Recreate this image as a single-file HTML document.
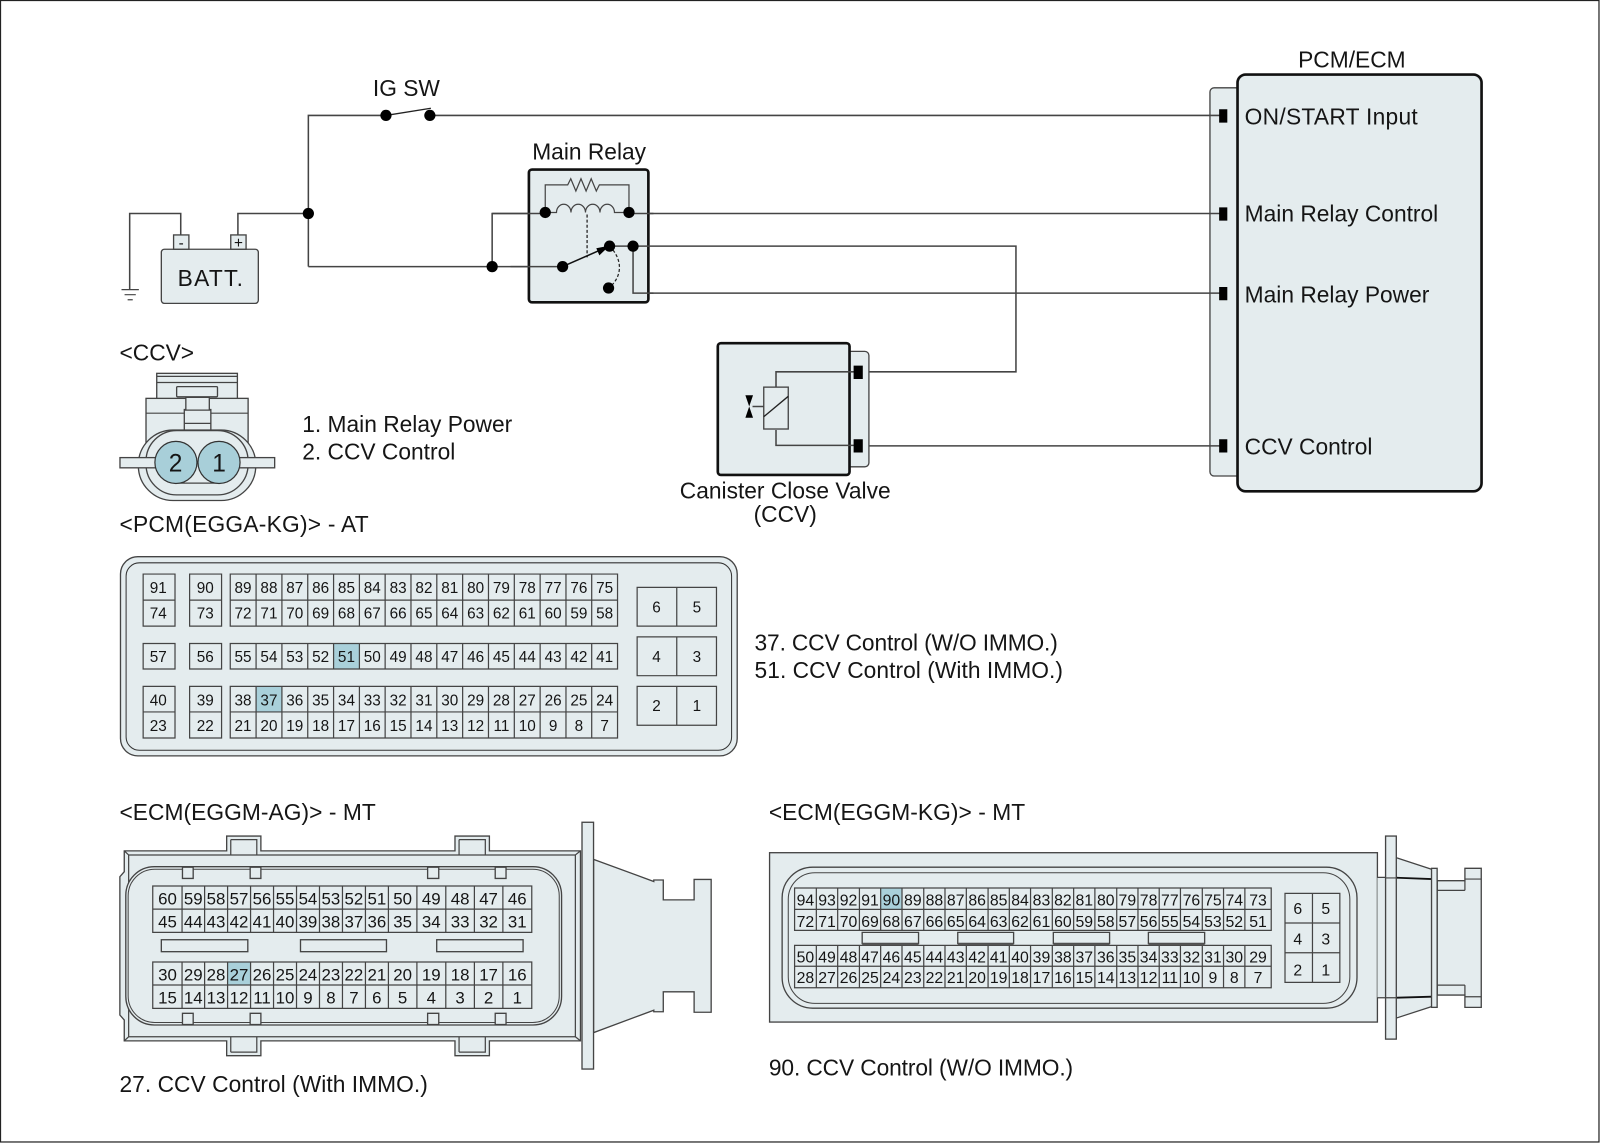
<!DOCTYPE html>
<html><head><meta charset="utf-8"><title>CCV circuit diagram</title>
<style>
html,body{margin:0;padding:0;background:#fff}
svg{display:block}
text{font-family:"Liberation Sans",sans-serif;fill:#151515}
.l{font-size:22.3px}
.c{text-anchor:middle}
.p text{text-anchor:middle;font-size:15px}
.a text{text-anchor:middle;font-size:16.5px}
.k text{text-anchor:middle;font-size:15.5px}
.f{fill:#e4ecee;stroke:#444;stroke-width:1.3}
.b{fill:#e4ecee;stroke:#111;stroke-width:2.6}
.w{fill:none;stroke:#444;stroke-width:1.5}
.g{fill:none;stroke:#444;stroke-width:1.2}
.h{fill:#a9d0da}
</style></head><body>
<svg width="1600" height="1143" viewBox="0 0 1567 1119" preserveAspectRatio="none" xmlns="http://www.w3.org/2000/svg">
<rect x="0" y="0" width="1567" height="1119" fill="#fff"/>
<rect x="0.5" y="0.5" width="1565.5" height="1117.5" fill="none" stroke="#222" stroke-width="1.2"/>

<!-- PCM/ECM block -->
<rect class="f" x="1185" y="86" width="30" height="380" rx="4" stroke-width="1"/>
<rect class="b" x="1212" y="73" width="239" height="408" rx="8"/>
<path class="w" d="M421 113H1197M616 209H1197M620 287H1197M760 436.500H1197"/>
<path fill="#000" d="M1194 107h8v13h-8zM1194 203h8v13h-8zM1194 281h8v13h-8zM1194 430h8v13h-8z"/>
<text class="l c" x="1324" y="66">PCM/ECM</text>
<text class="l" x="1219" y="122" textLength="169.500">ON/START Input</text>
<text class="l" x="1219" y="217">Main Relay Control</text>
<text class="l" x="1219" y="296">Main Relay Power</text>
<text class="l" x="1219" y="445">CCV Control</text>

<!-- Battery + wires -->
<path class="w" d="M177 230V209H127V283M233 230V209H302M302 261V113H378M302 261H551M482 261V209H534"/>
<path class="g" d="M119 283.500h17M122 288.500h11M125 293.500h5"/>
<rect class="f" x="158" y="244" width="95" height="53" rx="3"/>
<rect class="f" x="170" y="230" width="15" height="14"/>
<rect class="f" x="226" y="230" width="15" height="14"/>
<text x="177.500" y="243" font-size="15" text-anchor="middle">-</text>
<text x="233.500" y="243" font-size="15" text-anchor="middle">+</text>
<text class="l c" x="206" y="280" textLength="64">BATT.</text>
<circle cx="302" cy="209" r="5.500"/><circle cx="482" cy="261" r="5.500"/>
<path d="M378 113L422 106" stroke="#222" stroke-width="1.300"/>
<circle cx="378" cy="113" r="5.500"/><circle cx="421" cy="113" r="5.500"/>
<text class="l c" x="398" y="94">IG SW</text>

<!-- Main relay -->
<rect class="b" x="518" y="166" width="117" height="130" rx="3"/>
<text class="l c" x="577" y="156">Main Relay</text>
<path class="w" d="M482 209H534M616 209H640M620 241H995V364H840M620 241V287H640M551 261H500"/>
<path class="g" d="M534 208V181H556l3-6 5 12 5-12 5 12 5-12 5 12 3-6H616V208"/>
<path class="g" d="M534 208H545a7.100 8 0 0 1 14.200 0a7.100 8 0 0 1 14.200 0a7.100 8 0 0 1 14.200 0a7.100 8 0 0 1 14.200 0H616"/>
<path fill="none" stroke="#444" stroke-width="1.500" stroke-dasharray="3 2" d="M575 210V252"/>
<path fill="none" stroke="#222" stroke-width="1.200" stroke-dasharray="3 2" d="M597 241C611 255 609 272 596 282"/>
<path stroke="#111" stroke-width="1.500" d="M551 261L592 243"/>
<path d="M597 240.500L584 243l3 7z"/>
<path class="w" d="M597 241H620"/>
<circle cx="534" cy="208" r="5.500"/><circle cx="616" cy="208" r="5.500"/><circle cx="551" cy="261" r="5.500"/><circle cx="597" cy="241" r="5.500"/><circle cx="620" cy="241" r="5.500"/><circle cx="596" cy="282" r="5.500"/>

<!-- CCV valve -->
<rect class="f" x="825" y="344" width="26" height="113" rx="4" stroke-width="1"/>
<rect class="b" x="703" y="336" width="129" height="129" rx="3"/>
<path class="w" d="M760 379V364H840M760 421V436H840M737 398H748"/>
<rect x="748" y="379" width="24" height="41" fill="#e4ecee" stroke="#444" stroke-width="1.300"/>
<path stroke="#222" stroke-width="1.300" d="M748 408L772 388"/>
<path d="M730 387h7.500l-3.750 11zM730 409h7.500l-3.750-11z"/>
<path fill="#000" d="M836 358h9v13h-9zM836 430h9v13h-9z"/>
<text class="l c" x="769" y="488">Canister Close Valve</text>
<text class="l c" x="769" y="511">(CCV)</text>

<!-- CCV connector -->
<text class="l" x="117" y="353">&lt;CCV&gt;</text>
<rect class="f" x="153.500" y="365.500" width="79" height="25"/>
<path class="g" d="M153.500 368.500h79M153.500 374.500h79"/>
<rect class="f" x="143" y="390" width="100" height="44"/>
<path class="g" d="M143 404.500h100"/>
<rect class="f" x="173" y="378.500" width="40" height="10" rx="1"/>
<path class="f" d="M182 389h23v12h1.500v21h-26v-21h1.500z"/>
<path class="g" d="M180.500 401.500h26M180.500 414.500h26"/>
<rect class="f" x="135.500" y="421" width="115" height="69" rx="34"/>
<rect class="f" x="143" y="421.500" width="100" height="63" rx="30"/>
<path class="g" d="M172 473h42"/>
<rect class="f" x="117.500" y="448" width="36" height="10"/>
<rect class="f" x="233" y="448" width="36" height="10"/>
<circle cx="172.300" cy="452.700" r="20.600" fill="#a8cfd9" stroke="#333" stroke-width="1.200"/>
<circle cx="214.500" cy="452.700" r="20.600" fill="#a8cfd9" stroke="#333" stroke-width="1.200"/>
<text x="172" y="461.500" font-size="24" text-anchor="middle">2</text>
<text x="214.500" y="461.500" font-size="24" text-anchor="middle">1</text>
<text class="l" x="296" y="423">1. Main Relay Power</text>
<text class="l" x="296" y="450">2. CCV Control</text>

<!-- PCM connector -->
<text class="l" x="117" y="521" textLength="244">&lt;PCM(EGGA-KG)&gt; - AT</text>
<rect class="f" x="118" y="545" width="604" height="195" rx="17" stroke="#777" stroke-width="1.600"/>
<rect x="123.500" y="551" width="593" height="183.500" rx="13" fill="none" stroke="#333" stroke-width="1"/>
<rect class="h" x="326.700" y="630" width="25.300" height="25"/>
<rect class="h" x="250.800" y="672" width="25.300" height="25"/>
<path class="g" d="M140.200 562h31.200v51h-31.200zM140.200 587.500h31.200M185.700 562h31.300v51h-31.300zM185.700 587.500h31.300M140.200 630h31.200v25h-31.200zM185.700 630h31.300v25h-31.300zM140.200 672h31.200v50.500h-31.200zM140.200 697h31.200M185.700 672h31.300v50.500h-31.300zM185.700 697h31.300"/>
<path class="g" d="M225.500 562H604.800V613H225.500zM225.500 587.500H604.800M225.500 630H604.800V655H225.500zM225.500 672H604.800V722.500H225.500zM225.500 697H604.800"/>
<path class="g" d="M250.800 562V613M276.100 562V613M301.400 562V613M326.700 562V613M352 562V613M377.200 562V613M402.500 562V613M427.800 562V613M453.100 562V613M478.400 562V613M503.700 562V613M529 562V613M554.300 562V613M579.500 562V613M250.800 630V655M276.100 630V655M301.400 630V655M326.700 630V655M352 630V655M377.200 630V655M402.500 630V655M427.800 630V655M453.100 630V655M478.400 630V655M503.700 630V655M529 630V655M554.300 630V655M579.500 630V655M250.800 672V722.500M276.100 672V722.500M301.400 672V722.500M326.700 672V722.500M352 672V722.500M377.200 672V722.500M402.500 672V722.500M427.800 672V722.500M453.100 672V722.500M478.400 672V722.500M503.700 672V722.500M529 672V722.500M554.300 672V722.500M579.500 672V722.500"/>
<path class="g" d="M624 575h77.700v38H624zM662.800 575v38M624 623.500h77.700v38H624zM662.800 623.500v38M624 672h77.700v38H624zM662.800 672v38"/>
<g class="p">
<text x="155" y="580.500">91</text><text x="201" y="580.500">90</text><text x="155" y="605.500">74</text><text x="201" y="605.500">73</text><text x="155" y="648">57</text><text x="201" y="648">56</text><text x="155" y="690.500">40</text><text x="201" y="690.500">39</text><text x="155" y="715.500">23</text><text x="201" y="715.500">22</text>
<text x="238" y="580.500">89</text><text x="263.400" y="580.500">88</text><text x="288.700" y="580.500">87</text><text x="314" y="580.500">86</text><text x="339.300" y="580.500">85</text><text x="364.600" y="580.500">84</text><text x="389.900" y="580.500">83</text><text x="415.200" y="580.500">82</text><text x="440.500" y="580.500">81</text><text x="465.800" y="580.500">80</text><text x="491.100" y="580.500">79</text><text x="516.400" y="580.500">78</text><text x="541.700" y="580.500">77</text><text x="567" y="580.500">76</text><text x="592.200" y="580.500">75</text>
<text x="238" y="605.500">72</text><text x="263.400" y="605.500">71</text><text x="288.700" y="605.500">70</text><text x="314" y="605.500">69</text><text x="339.300" y="605.500">68</text><text x="364.600" y="605.500">67</text><text x="389.900" y="605.500">66</text><text x="415.200" y="605.500">65</text><text x="440.500" y="605.500">64</text><text x="465.800" y="605.500">63</text><text x="491.100" y="605.500">62</text><text x="516.400" y="605.500">61</text><text x="541.700" y="605.500">60</text><text x="567" y="605.500">59</text><text x="592.200" y="605.500">58</text>
<text x="238" y="648">55</text><text x="263.400" y="648">54</text><text x="288.700" y="648">53</text><text x="314" y="648">52</text><text x="339.300" y="648">51</text><text x="364.600" y="648">50</text><text x="389.900" y="648">49</text><text x="415.200" y="648">48</text><text x="440.500" y="648">47</text><text x="465.800" y="648">46</text><text x="491.100" y="648">45</text><text x="516.400" y="648">44</text><text x="541.700" y="648">43</text><text x="567" y="648">42</text><text x="592.200" y="648">41</text>
<text x="238" y="690.500">38</text><text x="263.400" y="690.500">37</text><text x="288.700" y="690.500">36</text><text x="314" y="690.500">35</text><text x="339.300" y="690.500">34</text><text x="364.600" y="690.500">33</text><text x="389.900" y="690.500">32</text><text x="415.200" y="690.500">31</text><text x="440.500" y="690.500">30</text><text x="465.800" y="690.500">29</text><text x="491.100" y="690.500">28</text><text x="516.400" y="690.500">27</text><text x="541.700" y="690.500">26</text><text x="567" y="690.500">25</text><text x="592.200" y="690.500">24</text>
<text x="238" y="715.500">21</text><text x="263.400" y="715.500">20</text><text x="288.700" y="715.500">19</text><text x="314" y="715.500">18</text><text x="339.300" y="715.500">17</text><text x="364.600" y="715.500">16</text><text x="389.900" y="715.500">15</text><text x="415.200" y="715.500">14</text><text x="440.500" y="715.500">13</text><text x="465.800" y="715.500">12</text><text x="491.100" y="715.500">11</text><text x="516.400" y="715.500">10</text><text x="541.700" y="715.500">9</text><text x="567" y="715.500">8</text><text x="592.200" y="715.500">7</text>
<text x="643" y="599.500">6</text><text x="682.500" y="599.500">5</text><text x="643" y="648">4</text><text x="682.500" y="648">3</text><text x="643" y="696">2</text><text x="682.500" y="696">1</text>
</g>
<text class="l" x="739" y="637" textLength="297">37. CCV Control (W/O IMMO.)</text>
<text class="l" x="739" y="664" textLength="302">51. CCV Control (With IMMO.)</text>

<!-- ECM AG connector -->
<text class="l" x="117" y="803" textLength="251">&lt;ECM(EGGM-AG)&gt; - MT</text>
<path class="f" d="M222 833V818.500H255.500V833H445.600V818.500H479.300V833H568.500V1019H479.300V1033.500H445.600V1019H255.500V1033.500H222V1019H121.700V998.600L117.400 993.700V858.300L121.700 853.400V833Z"/>
<path class="g" d="M126 837H563.500V1015H126ZM121.700 833L126 837M568.500 833L563.500 837M121.700 1019L126 1015M568.500 1019L563.500 1015M226 822H251.500V837M226 822V837M449.600 822H475.300V837M449.600 822V837M226 1030H251.500V1015M226 1030V1015M449.600 1030H475.300V1015M449.600 1030V1015"/>
<rect class="f" x="123.200" y="848.500" width="426.800" height="155" rx="28"/>
<rect x="125.500" y="851" width="422.200" height="150" rx="26" fill="none" stroke="#444" stroke-width="1"/>
<path class="f" d="M178.700 849v11h10.500v-11zM245 849v11h10.500v-11zM418.800 849v11h10.900v-11zM485 849v11h10.600v-11zM178.700 1003v-11h10.500v11zM245 1003v-11h10.500v11zM418.800 1003v-11h10.900v11zM485 1003v-11h10.600v11z"/>
<rect class="h" x="222.900" y="941.800" width="22.500" height="22.500"/>
<path class="g" d="M149.600 867.400H520.800V912.800H149.600ZM149.600 890H520.800M149.600 941.800H520.800V987.200H149.600ZM149.600 964.300H520.800"/>
<path class="g" d="M178.300 867.400V912.800M200.400 867.400V912.800M222.900 867.400V912.800M245.400 867.400V912.800M267.900 867.400V912.800M290.400 867.400V912.800M312.900 867.400V912.800M335.400 867.400V912.800M357.900 867.400V912.800M380.400 867.400V912.800M408.300 867.400V912.800M436.600 867.400V912.800M464.600 867.400V912.800M492.500 867.400V912.800M178.300 941.800V987.200M200.400 941.800V987.200M222.900 941.800V987.200M245.400 941.800V987.200M267.900 941.800V987.200M290.400 941.800V987.200M312.900 941.800V987.200M335.400 941.800V987.200M357.900 941.800V987.200M380.400 941.800V987.200M408.300 941.800V987.200M436.600 941.800V987.200M464.600 941.800V987.200M492.500 941.800V987.200"/>
<rect class="f" x="158" y="920" width="84.700" height="11.700"/><rect class="f" x="294.300" y="920" width="84.200" height="11.700"/><rect class="f" x="427.700" y="920" width="84.600" height="11.700"/>
<g class="a">
<text x="164" y="885.500">60</text><text x="189.300" y="885.500">59</text><text x="211.600" y="885.500">58</text><text x="234.100" y="885.500">57</text><text x="256.600" y="885.500">56</text><text x="279.100" y="885.500">55</text><text x="301.600" y="885.500">54</text><text x="324.100" y="885.500">53</text><text x="346.600" y="885.500">52</text><text x="369.100" y="885.500">51</text><text x="394.300" y="885.500">50</text><text x="422.400" y="885.500">49</text><text x="450.600" y="885.500">48</text><text x="478.500" y="885.500">47</text><text x="506.600" y="885.500">46</text>
<text x="164" y="908">45</text><text x="189.300" y="908">44</text><text x="211.600" y="908">43</text><text x="234.100" y="908">42</text><text x="256.600" y="908">41</text><text x="279.100" y="908">40</text><text x="301.600" y="908">39</text><text x="324.100" y="908">38</text><text x="346.600" y="908">37</text><text x="369.100" y="908">36</text><text x="394.300" y="908">35</text><text x="422.400" y="908">34</text><text x="450.600" y="908">33</text><text x="478.500" y="908">32</text><text x="506.600" y="908">31</text>
<text x="164" y="960">30</text><text x="189.300" y="960">29</text><text x="211.600" y="960">28</text><text x="234.100" y="960">27</text><text x="256.600" y="960">26</text><text x="279.100" y="960">25</text><text x="301.600" y="960">24</text><text x="324.100" y="960">23</text><text x="346.600" y="960">22</text><text x="369.100" y="960">21</text><text x="394.300" y="960">20</text><text x="422.400" y="960">19</text><text x="450.600" y="960">18</text><text x="478.500" y="960">17</text><text x="506.600" y="960">16</text>
<text x="164" y="982.500">15</text><text x="189.300" y="982.500">14</text><text x="211.600" y="982.500">13</text><text x="234.100" y="982.500">12</text><text x="256.600" y="982.500">11</text><text x="279.100" y="982.500">10</text><text x="301.600" y="982.500">9</text><text x="324.100" y="982.500">8</text><text x="346.600" y="982.500">7</text><text x="369.100" y="982.500">6</text><text x="394.300" y="982.500">5</text><text x="422.400" y="982.500">4</text><text x="450.600" y="982.500">3</text><text x="478.500" y="982.500">2</text><text x="506.600" y="982.500">1</text>
</g>
<path class="f" d="M581.300 841.300L640.300 863V861.500H649.600V881H679.800V861H696.500V991H679.800V971H649.600V990.500H640.300V989L581.300 1011Z"/>
<rect class="f" x="570" y="805" width="11.300" height="241.600"/>
<text class="l" x="117" y="1069" textLength="302">27. CCV Control (With IMMO.)</text>

<!-- ECM KG connector -->
<text class="l" x="753" y="803" textLength="251">&lt;ECM(EGGM-KG)&gt; - MT</text>
<rect class="f" x="753.700" y="834.800" width="595.300" height="165.800"/>
<rect class="f" x="766" y="849" width="563" height="138" rx="30"/>
<rect x="772" y="854.400" width="550" height="127.900" rx="26" fill="none" stroke="#444" stroke-width="1"/>
<rect class="h" x="862.500" y="869.400" width="20.900" height="20.900"/>
<path class="g" d="M778.200 869.400H1245V910.800H778.200ZM778.200 890.300H1245M778.200 925.500H1245V967H778.200ZM778.200 946H1245"/>
<path class="g" d="M799.500 869.400V910.800M820.400 869.400V910.800M841.700 869.400V910.800M862.500 869.400V910.800M883.400 869.400V910.800M904.700 869.400V910.800M925.500 869.400V910.800M946.400 869.400V910.800M967.700 869.400V910.800M988.500 869.400V910.800M1009.300 869.400V910.800M1030.600 869.400V910.800M1051.500 869.400V910.800M1072.300 869.400V910.800M1093.700 869.400V910.800M1114.500 869.400V910.800M1135.300 869.400V910.800M1156.100 869.400V910.800M1177.500 869.400V910.800M1198.300 869.400V910.800M1219.200 869.400V910.800M799.500 925.500V967M820.400 925.500V967M841.700 925.500V967M862.500 925.500V967M883.400 925.500V967M904.700 925.500V967M925.500 925.500V967M946.400 925.500V967M967.700 925.500V967M988.500 925.500V967M1009.300 925.500V967M1030.600 925.500V967M1051.500 925.500V967M1072.300 925.500V967M1093.700 925.500V967M1114.500 925.500V967M1135.300 925.500V967M1156.100 925.500V967M1177.500 925.500V967M1198.300 925.500V967M1219.200 925.500V967"/>
<path class="f" d="M844.400 912.800h55.200v10.800h-55.200zM938 912.800h54.700v10.800H938zM1031.600 912.800h55.100v10.800h-55.100zM1124.700 912.800h55.100v10.800h-55.100z"/>
<path stroke="#555" stroke-width="2" fill="none" d="M844.400 924.500h55.200M938 924.500h54.700M1031.600 924.500h55.100M1124.700 924.500h55.100"/>
<path class="g" d="M1258.500 874.600h53.700v87.100h-53.700zM1285.400 874.600v87.100M1258.500 903.600h53.700M1258.500 932.700h53.700"/>
<g class="k">
<text x="788.800" y="886.500">94</text><text x="810" y="886.500">93</text><text x="831" y="886.500">92</text><text x="852.100" y="886.500">91</text><text x="873" y="886.500">90</text><text x="894" y="886.500">89</text><text x="915.100" y="886.500">88</text><text x="936" y="886.500">87</text><text x="957" y="886.500">86</text><text x="978.100" y="886.500">85</text><text x="999" y="886.500">84</text><text x="1020" y="886.500">83</text><text x="1041" y="886.500">82</text><text x="1061.900" y="886.500">81</text><text x="1083" y="886.500">80</text><text x="1104.100" y="886.500">79</text><text x="1124.900" y="886.500">78</text><text x="1145.700" y="886.500">77</text><text x="1166.800" y="886.500">76</text><text x="1187.900" y="886.500">75</text><text x="1208.800" y="886.500">74</text><text x="1232.100" y="886.500">73</text>
<text x="788.800" y="907.500">72</text><text x="810" y="907.500">71</text><text x="831" y="907.500">70</text><text x="852.100" y="907.500">69</text><text x="873" y="907.500">68</text><text x="894" y="907.500">67</text><text x="915.100" y="907.500">66</text><text x="936" y="907.500">65</text><text x="957" y="907.500">64</text><text x="978.100" y="907.500">63</text><text x="999" y="907.500">62</text><text x="1020" y="907.500">61</text><text x="1041" y="907.500">60</text><text x="1061.900" y="907.500">59</text><text x="1083" y="907.500">58</text><text x="1104.100" y="907.500">57</text><text x="1124.900" y="907.500">56</text><text x="1145.700" y="907.500">55</text><text x="1166.800" y="907.500">54</text><text x="1187.900" y="907.500">53</text><text x="1208.800" y="907.500">52</text><text x="1232.100" y="907.500">51</text>
<text x="788.800" y="942.500">50</text><text x="810" y="942.500">49</text><text x="831" y="942.500">48</text><text x="852.100" y="942.500">47</text><text x="873" y="942.500">46</text><text x="894" y="942.500">45</text><text x="915.100" y="942.500">44</text><text x="936" y="942.500">43</text><text x="957" y="942.500">42</text><text x="978.100" y="942.500">41</text><text x="999" y="942.500">40</text><text x="1020" y="942.500">39</text><text x="1041" y="942.500">38</text><text x="1061.900" y="942.500">37</text><text x="1083" y="942.500">36</text><text x="1104.100" y="942.500">35</text><text x="1124.900" y="942.500">34</text><text x="1145.700" y="942.500">33</text><text x="1166.800" y="942.500">32</text><text x="1187.900" y="942.500">31</text><text x="1208.800" y="942.500">30</text><text x="1232.100" y="942.500">29</text>
<text x="788.800" y="962.500">28</text><text x="810" y="962.500">27</text><text x="831" y="962.500">26</text><text x="852.100" y="962.500">25</text><text x="873" y="962.500">24</text><text x="894" y="962.500">23</text><text x="915.100" y="962.500">22</text><text x="936" y="962.500">21</text><text x="957" y="962.500">20</text><text x="978.100" y="962.500">19</text><text x="999" y="962.500">18</text><text x="1020" y="962.500">17</text><text x="1041" y="962.500">16</text><text x="1061.900" y="962.500">15</text><text x="1083" y="962.500">14</text><text x="1104.100" y="962.500">13</text><text x="1124.900" y="962.500">12</text><text x="1145.700" y="962.500">11</text><text x="1166.800" y="962.500">10</text><text x="1187.900" y="962.500">9</text><text x="1208.800" y="962.500">8</text><text x="1232.100" y="962.500">7</text>
<text x="1271" y="895">6</text><text x="1298.500" y="895">5</text><text x="1271" y="924.500">4</text><text x="1298.500" y="924.500">3</text><text x="1271" y="955">2</text><text x="1298.500" y="955">1</text>
</g>
<!-- KG right end -->
<path fill="#e4ecee" d="M1349 859H1358V976.800H1349ZM1367.500 839.700L1402 851V985.500L1367.500 996.700Z"/>
<path class="g" d="M1349 859H1358M1349 976.800H1358M1367.500 839.700L1402 851M1367.500 996.700L1402 985.500"/>
<path stroke="#111" stroke-width="1.800" fill="none" d="M1367.500 859.300L1402 860.600M1367.500 976.800L1402 975.800"/>
<path class="f" d="M1407.500 862.200H1434.700V850.100H1450.700V986.200H1434.700V974.200H1407.500Z"/>
<path class="g" d="M1407.500 871.700H1434.700M1407.500 964.400H1434.700M1407.500 862.200V871.700M1434.700 862.200V871.700M1407.500 964.400V974.200M1434.700 964.400V974.200M1434.700 860.600H1450.700M1434.700 975.800H1450.700"/>
<rect class="f" x="1402" y="850.100" width="5.500" height="136.100"/>
<rect class="f" x="1357" y="818.500" width="10.500" height="198.800"/>
<path class="g" d="M1357 859.500H1367.500M1357 976.800H1367.500"/>
<text class="l" x="753" y="1053" textLength="298">90. CCV Control (W/O IMMO.)</text>
</svg>
</body></html>
